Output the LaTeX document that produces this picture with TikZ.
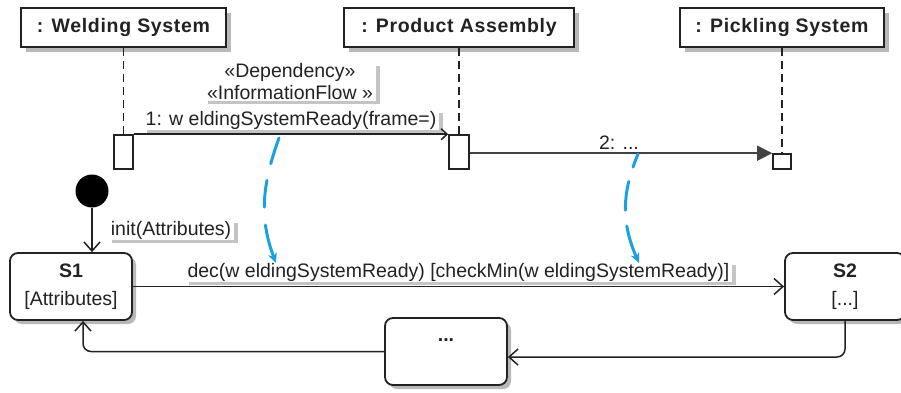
\documentclass[tikz,border=0pt]{standalone}
\usepackage{fontspec}
\setmainfont{Liberation Sans}
\newfontfamily\headfont[LetterSpace=3.5]{Liberation Sans}
\usetikzlibrary{arrows.meta,shadows}
\definecolor{ink}{HTML}{222222}
\definecolor{flow}{HTML}{1BA1E2}
\definecolor{shade}{HTML}{B8B8B8}
\definecolor{lshade}{HTML}{C4C4C4}
\begin{document}
\begin{tikzpicture}[x=1pt,y=-1pt,
  font=\fontsize{19.5}{22}\selectfont,
  head/.style={draw=ink, line width=1.8pt, fill=white, minimum height=39pt, inner sep=0pt,
    text=ink, font=\headfont\fontsize{19.5}{24}\selectfont\bfseries,
    drop shadow={shadow xshift=5pt, shadow yshift=-5pt, fill=shade, opacity=1}},
  lifeline/.style={draw=ink, line width=1.4pt, dash pattern=on 8pt off 5pt},
  act/.style={draw=ink, line width=1.6pt, fill=white, inner sep=0pt},
  msgl/.style={fill=white, inner xsep=3pt, inner ysep=1pt, text=ink,
    drop shadow={shadow xshift=4pt, shadow yshift=-3pt, fill=lshade, opacity=1}},
  state/.style={draw=ink, line width=1.8pt, rounded corners=8pt, fill=white,
    minimum width=122pt, minimum height=67pt, align=center, text=ink,
    font=\fontsize{19.5}{28}\selectfont,
    drop shadow={shadow xshift=4pt, shadow yshift=-4pt, fill=shade, opacity=1}},
  trans/.style={draw=ink, line width=1.5pt, -{Straight Barb[length=9pt,width=16pt]}},
  msg/.style={draw=ink, line width=1.5pt},
  flowarrow/.style={draw=flow, line width=3pt, line cap=round, -{Stealth[length=10pt,width=9pt]}}
]
\useasboundingbox (0,0) rectangle (901,392);

% lifeline heads
\node[head, minimum width=205pt] (ws) at (123.5,27.5) {: Welding System};
\node[head, minimum width=230pt] (pa) at (459,27.5) {: Product Assembly};
\node[head, minimum width=204pt] (ps) at (782,27.5) {: Pickling System};

% activations (named, drawn after lifelines)
\path (123.5,152) coordinate (wsactc) (459,152) coordinate (paactc) (782,161.5) coordinate (psactc);
\draw[lifeline] (ws.south) -- (ws.south |- 0,135);
\draw[lifeline] (pa.south) -- (pa.south |- 0,135);
\draw[lifeline] (ps.south) -- (ps.south |- 0,154);
\node[act, minimum width=19pt, minimum height=34pt] (wsact) at (wsactc) {};
\node[act, minimum width=20pt, minimum height=34pt] (paact) at (paactc) {};
\node[act, minimum width=18pt, minimum height=15pt] (psact) at (psactc) {};

% messages
\node[msgl, align=center] (dep) at (290,82) {«Dependency»\\«InformationFlow »};
\node[msgl] (m1) at (291,120) {1: w eldingSystemReady(frame=)};
\draw[msg, -{Straight Barb[length=6pt,width=11pt]}] (wsact.north east) -- (paact.north west);
\node[text=ink] (m2) at (619,143) {2: ...};
\draw[msg, -{Triangle[length=15pt,width=15pt]}, ink!85] (paact.east |- psact.north west) -- (psact.north west);

% state machine
\node[circle, fill=black, minimum size=33pt, inner sep=0pt] (init) at (92,191) {};
\node[state] (s1) at (71,286.5) {\textbf{S1}\\{[Attributes]}};
\node[state, minimum width=120pt] (s2) at (845,286.5) {\textbf{S2}\\{[...]}};
\node[state] (dots) at (446,351.5) {};
\node[text=ink, font=\fontsize{19.5}{22}\selectfont\bfseries] (dotstext) at (446,340) {...};

\node[msgl] (initl) at (171,230) {init(Attributes)};
\draw[trans] (init.south) -- (init.south |- s1.north);

\node[msgl] (decl) at (458.5,272) {dec(w eldingSystemReady) [checkMin(w eldingSystemReady)]};
\draw[trans] (s1.east) -- (s2.west);
\draw[trans, rounded corners=8pt] (s2.south) |- ([yshift=-5.5pt]dots.east);
\draw[trans, rounded corners=8pt] (dots.west) -| ([xshift=12pt]s1.south);

% information flow arrows
\coordinate (f1s) at (279,138);
\coordinate (f1e) at (276,263);
\coordinate (f2s) at (638,154);
\coordinate (f2e) at (639,263);
\draw[flowarrow, dash pattern=on 27pt off 17pt on 27pt off 18pt on 90pt off 1pt]
  (f1s) .. controls (262,185) and (259,218) .. (f1e);
\draw[flowarrow, dash pattern=on 14pt off 15pt on 29pt off 16pt on 90pt off 1pt]
  (f2s) .. controls (623,190) and (620,220) .. (f2e);
\end{tikzpicture}
\end{document}
